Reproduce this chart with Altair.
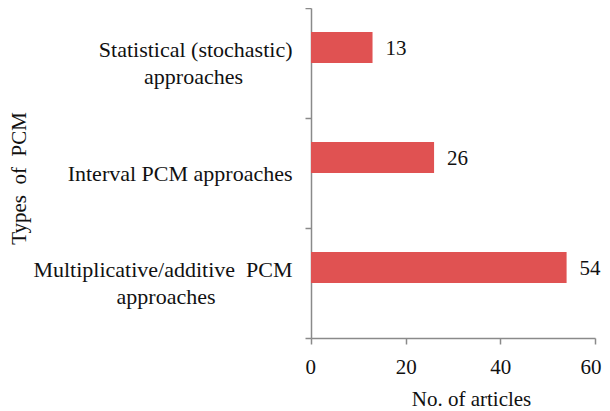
import altair as alt
import pandas as pd

NB = "\u00a0"
ZW = "\u200b"
categories = [
    "Statistical (stochastic)\napproaches" + NB * 9 + ZW,
    "Interval PCM approaches",
    "Multiplicative/additive" + NB + " PCM\napproaches" + NB * 14 + ZW,
]
counts = [13, 26, 54]
x_ticks = [0, 20, 40, 60]

df = pd.DataFrame({"type": categories, "count": counts})

FONT = "Liberation Serif"
AXIS_GREY = "#8a8a8a"
BAR = "#E05252"
TEXT = "#111111"

y_enc = alt.Y(
    "type:N",
    sort=categories,
    scale=alt.Scale(paddingInner=0, paddingOuter=0),
    axis=alt.Axis(
        title="Types" + NB + " of" + NB + " PCM",
        titleFont=FONT,
        titleFontSize=21,
        titleFontWeight="normal",
        titleColor=TEXT,
        titleAngle=270,
        titleBaseline="bottom",
        titleAlign="center",
        titleX=-282,
        titleY=170,
        labelFont=FONT,
        labelFontSize=22,
        labelColor=TEXT,
        labelAlign="right",
        labelBaseline={
            "condition": {
                "test": "isValid(datum.value) && indexof(datum.value, '\\n') >= 0",
                "value": "line-bottom",
            },
            "value": "middle",
        },
        labelLineHeight=27,
        labelLimit=0,
        labelExpr="isValid(datum.value) ? split(datum.value, '\\n') : ''",
        labelPadding=13,
        tickBand="extent",
        tickSize=6,
        tickColor=AXIS_GREY,
        domainColor=AXIS_GREY,
        domainWidth=1.5,
        tickWidth=1.5,
    ),
)

x_enc = alt.X(
    "count:Q",
    scale=alt.Scale(domain=[0, 60], nice=False),
    axis=alt.Axis(
        values=x_ticks,
        grid=False,
        title="No. of articles",
        titleFont=FONT,
        titleFontSize=21,
        titleFontWeight="normal",
        titleColor=TEXT,
        titlePadding=11,
        titleX=160,
        labelFont=FONT,
        labelFontSize=21,
        labelColor=TEXT,
        labelPadding=12,
        labelFlush=True,
        labelFlushOffset=6,
        tickSize=6,
        tickColor=AXIS_GREY,
        domainColor=AXIS_GREY,
        domainWidth=1.5,
        tickWidth=1.5,
    ),
)

bars = alt.Chart(df).mark_bar(size=31, yOffset=-15.5, color=BAR).encode(x=x_enc, y=y_enc)

labels = alt.Chart(df).mark_text(
    align="left", baseline="middle", dx=13, yOffset=-14, font=FONT, fontSize=21, color=TEXT
).encode(x="count:Q", y=alt.Y("type:N", sort=categories), text="count:Q")

chart = (
    alt.layer(bars, labels)
    .properties(
        width=284,
        height=330,
        autosize=alt.AutoSizeParams(type="none"),
        padding={"left": 303, "top": 0, "right": 7, "bottom": 73},
    )
    .configure_view(strokeWidth=0)
)

chart.save("out.html", embed_options={"renderer": "svg", "actions": False})
